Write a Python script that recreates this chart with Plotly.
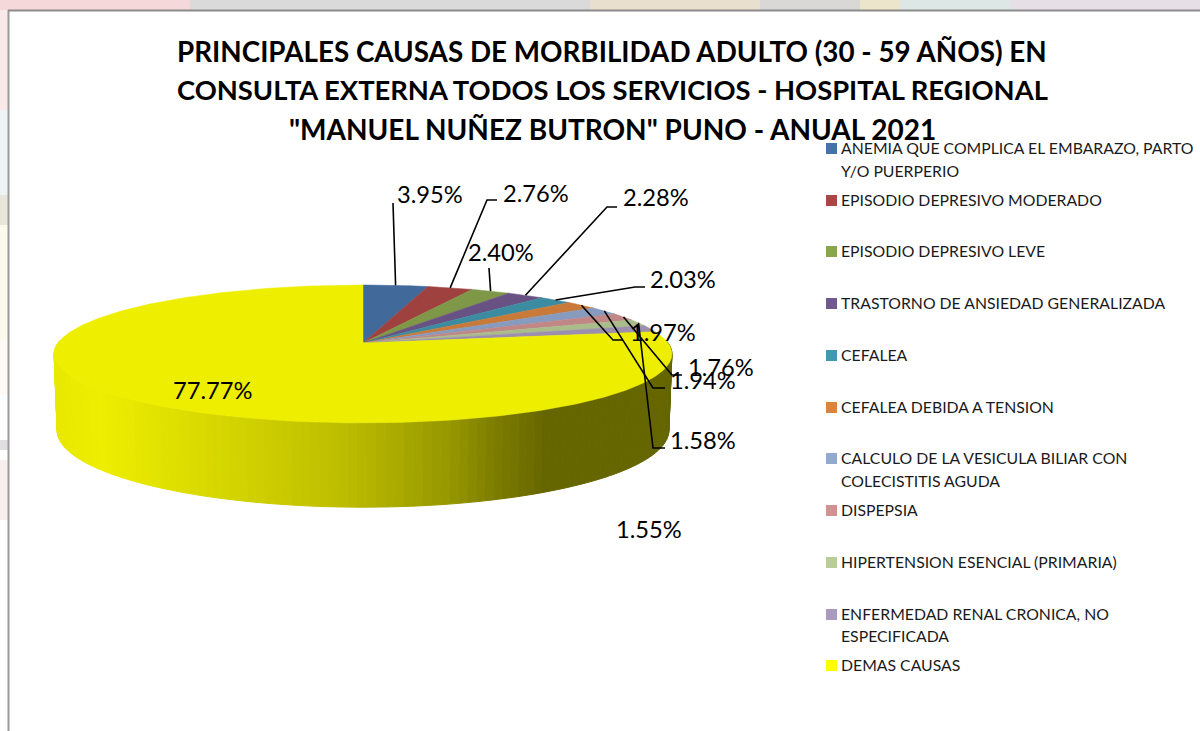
import math
import plotly.graph_objects as go

# ---------- data ----------
categories = [
    "ANEMIA QUE COMPLICA EL EMBARAZO, PARTO Y/O PUERPERIO",
    "EPISODIO DEPRESIVO MODERADO",
    "EPISODIO DEPRESIVO LEVE",
    "TRASTORNO DE ANSIEDAD GENERALIZADA",
    "CEFALEA",
    "CEFALEA DEBIDA A TENSION",
    "CALCULO DE LA VESICULA BILIAR CON COLECISTITIS AGUDA",
    "DISPEPSIA",
    "HIPERTENSION ESENCIAL (PRIMARIA)",
    "ENFERMEDAD RENAL CRONICA, NO ESPECIFICADA",
    "DEMAS CAUSAS",
]
values = [3.95, 2.76, 2.40, 2.28, 2.03, 1.97, 1.94, 1.76, 1.58, 1.55, 77.77]
title_lines = [
    "PRINCIPALES CAUSAS DE MORBILIDAD ADULTO (30 - 59 AÑOS) EN",
    "CONSULTA EXTERNA TODOS LOS SERVICIOS - HOSPITAL REGIONAL",
    "\"MANUEL NUÑEZ BUTRON\" PUNO - ANUAL 2021",
]

# ---------- styles ----------
legend_colors = ["#4572A7", "#AA4643", "#89A54E", "#71588F", "#4198AF", "#DB843D",
                 "#93A9CF", "#D19392", "#B9CD96", "#A99BBD", "#FFFF00"]
top_colors = ["#41699A", "#9F413E", "#7E9848", "#685183", "#3C8CA1", "#C97938",
              "#879BBE", "#C08786", "#AABC8A", "#9B8EAE", "#EEEE00"]
FONT = "Lato, Carlito, Calibri, sans-serif"

# ---------- projection of the pie (screen layout) ----------
CX, CY, BX, AY, P = 363.0, 343.0, 305.0, 67.2, 0.159
CY2, BX2, AY2 = 418.0, 302.0, 75.0


def top_pt(t):
    u, v = math.sin(t), math.cos(t)
    w = 1 + P * v
    return CX + BX * u / w, CY - AY * v / w


def bot_pt(t):
    u, v = math.sin(t), math.cos(t)
    w = 1 + P * v
    return CX + BX2 * u / w, CY2 - AY2 * v / w


def shade(x):
    stops = [(53, 232), (100, 238), (160, 226), (280, 202), (340, 190), (450, 150),
             (500, 122), (545, 102), (680, 102)]
    for (x0, c0), (x1, c1) in zip(stops, stops[1:]):
        if x <= x1:
            c = c0 + (c1 - c0) * (x - x0) / (x1 - x0)
            return f"rgb({c:.0f},{c:.0f},0)"
    return "rgb(102,102,0)"


fig = go.Figure()

# side wall
total = sum(values)
deg = math.pi / 180
a = 88.0
while a < 272.0:
    t0, t1 = a * deg, (a + 1.5) * deg
    p = [top_pt(t0), top_pt(t1), bot_pt(t1), bot_pt(t0), top_pt(t0)]
    col = shade(sum(q[0] for q in p[:4]) / 4)
    fig.add_trace(go.Scatter(x=[q[0] for q in p], y=[q[1] for q in p], mode="lines",
                             fill="toself", fillcolor=col, line=dict(color=col, width=1),
                             hoverinfo="skip", showlegend=False))
    a += 1.5

# top face: one wedge per value
cum = 0.0
mids = []
for name, val, col in zip(categories, values, top_colors):
    start = cum / total * 2 * math.pi
    end = (cum + val) / total * 2 * math.pi
    mids.append((start + end) / 2)
    n = max(4, int(val * 4))
    pts = [top_pt(start + (end - start) * i / n) for i in range(n + 1)]
    xs = [CX] + [q[0] for q in pts] + [CX]
    ys = [CY] + [q[1] for q in pts] + [CY]
    fig.add_trace(go.Scatter(x=xs, y=ys, mode="lines", fill="toself", fillcolor=col,
                             line=dict(color=col, width=0.5), name=name,
                             hoverinfo="name", showlegend=False))
    cum += val

# leader lines: begin at each wedge's rim midpoint
leader_paths = [
    [(393, 203)],
    [(487, 200), (497, 200)],
    [(489, 268)],
    [(607, 207), (617, 207)],
    [(635, 287), (645, 287)],
    [(613, 340), (623, 340)],
    [(653, 388), (665, 388)],
    [(672, 375), (682, 375)],
    [(653, 448), (665, 448)],
]
for mid, path in zip(mids, leader_paths):
    s = top_pt(mid)
    fig.add_trace(go.Scatter(x=[s[0]] + [q[0] for q in path], y=[s[1]] + [q[1] for q in path],
                             mode="lines", line=dict(color="#000000", width=1.6),
                             hoverinfo="skip", showlegend=False))

ann = []
label_pos = [(395, 194), (501, 193), (466, 252), (621, 197), (648, 279), (628, 332),
             (668, 380), (686, 367), (668, 440), (614, 529), (171, 390)]
for val, (x, y) in zip(values, label_pos):
    ann.append(dict(x=x, y=y, text=f"{val:.2f}%", xanchor="left", yanchor="middle", showarrow=False,
                    font=dict(family=FONT, size=23.7, color="#000000")))

for line, y, size in zip(title_lines, [51, 89, 129], [27.8, 27.35, 28.0]):
    ann.append(dict(x=612, y=y, text=f"<b>{line}</b>", xanchor="center", yanchor="middle",
                    showarrow=False, font=dict(family=FONT, size=size, color="#000000")))

# legend, drawn by hand to keep its uneven spacing
legend_rows = [
    (147, 170), (199,), (250,), (302,), (354,), (406,), (457, 480), (509,), (561,), (613, 635), (664,)
]
legend_wrap = [
    ["ANEMIA QUE COMPLICA EL EMBARAZO, PARTO", "Y/O PUERPERIO"],
    ["EPISODIO DEPRESIVO MODERADO"],
    ["EPISODIO DEPRESIVO LEVE"],
    ["TRASTORNO DE ANSIEDAD GENERALIZADA"],
    ["CEFALEA"],
    ["CEFALEA DEBIDA A TENSION"],
    ["CALCULO DE LA VESICULA BILIAR CON", "COLECISTITIS AGUDA"],
    ["DISPEPSIA"],
    ["HIPERTENSION ESENCIAL (PRIMARIA)"],
    ["ENFERMEDAD RENAL CRONICA, NO", "ESPECIFICADA"],
    ["DEMAS CAUSAS"],
]
shapes = []
for rows, lines, col in zip(legend_rows, legend_wrap, legend_colors):
    shapes.append(dict(type="rect", x0=826, x1=837, y0=rows[0] - 4, y1=rows[0] + 7,
                       fillcolor=col, line=dict(width=0), layer="above"))
    for y, line in zip(rows, lines):
        ann.append(dict(x=839, y=y, text=line, xanchor="left", yanchor="middle", showarrow=False,
                        font=dict(family=FONT, size=15.8, color="#1a1a1a")))

# faint page backdrop around the chart frame, and the frame itself
backdrop = [
    (0, 0, 8, 110, "#F9E9E9"),
    (0, 110, 8, 195, "#EEF4F6"),
    (0, 195, 8, 225, "#E8E5DB"),
    (0, 225, 8, 340, "#FCFAEC"),
    (0, 340, 8, 395, "#FEF9F5"),
    (0, 395, 8, 440, "#FDFDFD"),
    (0, 440, 8, 450, "#E0DEE0"),
    (0, 460, 8, 520, "#F9EEEE"),
    (0, 0, 190, 10, "#F5D9DA"),
    (190, 0, 590, 10, "#DBDADA"),
    (590, 0, 760, 10, "#E8DFCF"),
    (760, 0, 860, 10, "#D9D8D7"),
    (860, 0, 900, 10, "#EDE4CC"),
    (900, 0, 1010, 10, "#DDE7E6"),
    (1010, 0, 1200, 10, "#E6DFE6"),
]
for x0, y0, x1, y1, col in backdrop:
    shapes.append(dict(type="rect", x0=x0, x1=x1, y0=y0, y1=y1, fillcolor=col,
                       line=dict(width=0), layer="below"))
shapes.append(dict(type="line", x0=8.5, x1=8.5, y0=10, y1=731, line=dict(color="#9A9A9A", width=2)))
shapes.append(dict(type="line", x0=8, x1=1200, y0=10.5, y1=10.5, line=dict(color="#8C8C8C", width=2)))

fig.update_layout(
    width=1200, height=731, margin=dict(l=0, r=0, t=0, b=0),
    paper_bgcolor="#FFFFFF", plot_bgcolor="#FFFFFF",
    xaxis=dict(range=[0, 1200], visible=False, fixedrange=True),
    yaxis=dict(range=[731, 0], visible=False, fixedrange=True),
    annotations=ann, shapes=shapes, showlegend=False,
)
fig.write_html("out.html", config=dict(displayModeBar=False),
               post_script="document.body.style.margin='0';document.body.style.overflow='hidden';")
